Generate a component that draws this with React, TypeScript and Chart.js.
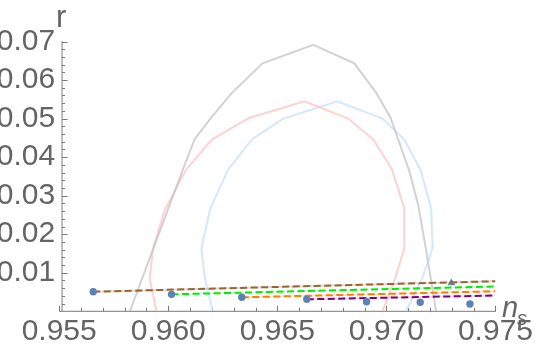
import React, { useEffect, useRef } from "react";
import { Chart, registerables } from "chart.js";

Chart.register(...registerables);

// ---- ticks ----
const xTickValues = [0.955, 0.96, 0.965, 0.97, 0.975];
const xTickLabels = ["0.955", "0.960", "0.965", "0.970", "0.975"];
const yTickValues = [0.01, 0.02, 0.03, 0.04, 0.05, 0.06, 0.07];
const yTickLabels = ["0.01", "0.02", "0.03", "0.04", "0.05", "0.06", "0.07"];
const xMinorTicks = [0.956, 0.957, 0.958, 0.959, 0.961, 0.962, 0.963, 0.964, 0.966, 0.967, 0.968, 0.969, 0.971, 0.972, 0.973, 0.974];
const yMinorTicks = [0.002, 0.004, 0.006, 0.008, 0.012, 0.014, 0.016, 0.018, 0.022, 0.024, 0.026, 0.028, 0.032, 0.034, 0.036, 0.038, 0.042, 0.044, 0.046, 0.048, 0.052, 0.054, 0.056, 0.058, 0.062, 0.064, 0.066, 0.068];
const xAxisLabel = "n";
const xAxisSub = "s";
const yAxisLabel = "r";

// ---- contours ----
const grayX = [0.95824, 0.96066, 0.96121, 0.96194, 0.9629, 0.96432, 0.96665, 0.96853, 0.96951, 0.97018, 0.97104, 0.97146, 0.97182, 0.97228];
const grayY = [0, 0.03661, 0.04464, 0.05008, 0.05655, 0.06433, 0.06912, 0.06433, 0.05689, 0.05034, 0.03661, 0.02754, 0.01588, 0];

const pinkX = [0.95946, 0.95915, 0.9593, 0.95984, 0.9608, 0.96199, 0.9637, 0.96624, 0.96825, 0.9694, 0.97025, 0.97082, 0.97082, 0.9704, 0.96982];
const pinkY = [0, 0.00855, 0.01632, 0.02624, 0.03661, 0.04456, 0.05016, 0.05448, 0.05, 0.04456, 0.03687, 0.02668, 0.01632, 0.00855, 0];

const blueX = [0.96205, 0.96167, 0.96152, 0.96192, 0.96273, 0.96384, 0.96527, 0.96775, 0.96982, 0.97082, 0.97157, 0.97205, 0.97212, 0.97164, 0.97089];
const blueY = [0, 0.00876, 0.01632, 0.0265, 0.03661, 0.04464, 0.05, 0.05448, 0.05, 0.04456, 0.03661, 0.02668, 0.01632, 0.00855, 0];

// ---- dashed model lines ----
const brownX = [0.95656, 0.975];
const brownY = [0.00508, 0.0078];
const greenX = [0.96015, 0.975];
const greenY = [0.0044, 0.00645];
const orangeX = [0.96337, 0.975];
const orangeY = [0.00363, 0.0052];
const purpleX = [0.96635, 0.975];
const purpleY = [0.00311, 0.0041];

// ---- points ----
const pointsX = [0.95656, 0.96015, 0.96337, 0.96635, 0.96909, 0.97155, 0.97383];
const pointsY = [0.00508, 0.0044, 0.00363, 0.00311, 0.00249, 0.00233, 0.00189];
const triX = [0.97298];
const triY = [0.00733];

const AXIS_COLOR = "#7a7a7a";
const LABEL_COLOR = "#646464";
const FONT = '"Liberation Sans", Arial, sans-serif';

const xy = (xs: number[], ys: number[]) => xs.map((x, i) => ({ x, y: ys[i] }));

const axesPlugin = {
  id: "mmaAxes",
  beforeDatasetsDraw(chart: any) {
    const { ctx, scales } = chart;
    const xs = scales.x;
    const ys = scales.y;
    const y0 = ys.getPixelForValue(0);
    const yTop = ys.getPixelForValue(0.07);
    const xOrig = xs.getPixelForValue(0.95513);
    const xL = xs.getPixelForValue(0.955);
    const xR = xs.getPixelForValue(0.975);
    ctx.save();
    ctx.strokeStyle = AXIS_COLOR;
    ctx.lineWidth = 1;
    ctx.beginPath();
    ctx.moveTo(xL, y0);
    ctx.lineTo(xR + 0.5, y0);
    ctx.moveTo(xOrig, y0);
    ctx.lineTo(xOrig, yTop - 0.5);
    xTickValues.forEach((v) => {
      const p = Math.round(xs.getPixelForValue(v)) + 0.5;
      ctx.moveTo(p, y0);
      ctx.lineTo(p, y0 - 5.5);
    });
    xMinorTicks.forEach((v) => {
      const p = Math.round(xs.getPixelForValue(v)) + 0.5;
      ctx.moveTo(p, y0);
      ctx.lineTo(p, y0 - 3.5);
    });
    yTickValues.forEach((v) => {
      const p = Math.round(ys.getPixelForValue(v)) + 0.5;
      ctx.moveTo(xOrig, p);
      ctx.lineTo(xOrig + 5.5, p);
    });
    yMinorTicks.forEach((v) => {
      const p = Math.round(ys.getPixelForValue(v)) + 0.5;
      ctx.moveTo(xOrig, p);
      ctx.lineTo(xOrig + 3, p);
    });
    ctx.stroke();
    ctx.restore();
  },
  afterDraw(chart: any) {
    const { ctx } = chart;
    ctx.save();
    ctx.fillStyle = LABEL_COLOR;
    ctx.textBaseline = "alphabetic";
    ctx.textAlign = "left";
    ctx.font = `31px ${FONT}`;
    ctx.fillText(yAxisLabel, 56, 27);
    ctx.font = `italic 29px ${FONT}`;
    ctx.fillText(xAxisLabel, 502, 317);
    ctx.font = `italic 20px ${FONT}`;
    ctx.fillText(xAxisSub, 517, 325);
    ctx.restore();
  },
};

export default function App() {
  const ref = useRef<HTMLCanvasElement | null>(null);
  useEffect(() => {
    if (!ref.current) return;
    const contour = (data: any[], color: string) => ({
      data,
      showLine: true,
      borderColor: color,
      borderWidth: 2,
      pointRadius: 0,
      fill: false,
      clip: 0,
      order: 10,
    });
    const ghostLine = (data: any[], color: string) => ({
      data,
      showLine: true,
      borderColor: color,
      borderWidth: 2,
      pointRadius: 0,
      fill: false,
      order: 5,
    });
    const dashLine = (data: any[], color: string) => ({
      data,
      showLine: true,
      borderColor: color,
      borderWidth: 2,
      borderDash: [7, 3.5],
      pointRadius: 0,
      fill: false,
      order: 4,
    });
    const chart = new Chart(ref.current, {
      type: "scatter",
      data: {
        datasets: [
          contour(xy(grayX, grayY), "rgba(195,195,195,0.75)"),
          contour(xy(pinkX, pinkY), "rgba(255,190,190,0.7)"),
          contour(xy(blueX, blueY), "rgba(200,225,255,0.8)"),
          {
            data: xy(triX, triY),
            pointStyle: "triangle",
            pointRadius: 4.5,
            backgroundColor: "#5e81b5",
            borderWidth: 0,
            showLine: false,
            order: 6,
          } as any,
          ghostLine(xy(brownX, brownY), "rgba(153,102,51,0.25)"),
          ghostLine(xy(greenX, greenY), "rgba(0,255,0,0.12)"),
          ghostLine(xy(orangeX, orangeY), "rgba(255,128,0,0.2)"),
          ghostLine(xy(purpleX, purpleY), "rgba(128,0,128,0.15)"),
          dashLine(xy(brownX, brownY), "#996633"),
          dashLine(xy(greenX, greenY), "#00ee00"),
          dashLine(xy(orangeX, orangeY), "#ff8000"),
          dashLine(xy(purpleX, purpleY), "#800080"),
          {
            data: xy(pointsX, pointsY),
            pointRadius: 3.7,
            backgroundColor: "#5e81b5",
            borderWidth: 0,
            showLine: false,
            order: 1,
          } as any,
        ],
      },
      options: {
        animation: false,
        responsive: false,
        events: [],
        layout: {
          autoPadding: false,
          padding: { top: 41.5, right: 38.5, left: 0, bottom: 0 },
        } as any,
        plugins: {
          legend: { display: false },
          tooltip: { enabled: false },
        },
        scales: {
          x: {
            type: "linear",
            min: 0.955,
            max: 0.975,
            grid: { display: false, drawTicks: false },
            border: { display: false },
            afterBuildTicks: (s: any) => {
              s.ticks = xTickValues.map((v) => ({ value: v }));
            },
            afterFit: (s: any) => {
              s.height = 38.7;
            },
            ticks: {
              autoSkip: false,
              maxRotation: 0,
              padding: 2,
              color: LABEL_COLOR,
              font: { family: FONT, size: 30 },
              callback: (_v: any, i: number) => xTickLabels[i],
            },
          },
          y: {
            type: "linear",
            min: 0,
            max: 0.07,
            grid: { display: false, drawTicks: false },
            border: { display: false },
            afterBuildTicks: (s: any) => {
              s.ticks = yTickValues.map((v) => ({ value: v }));
            },
            afterFit: (s: any) => {
              s.width = 59.2;
            },
            ticks: {
              autoSkip: false,
              padding: 4,
              color: LABEL_COLOR,
              font: { family: FONT, size: 30 },
              callback: (_v: any, i: number) => yTickLabels[i],
            },
          },
        },
      },
      plugins: [axesPlugin],
    });
    return () => chart.destroy();
  }, []);
  return (
    <canvas
      ref={ref}
      width={535}
      height={350}
      style={{ position: "fixed", left: 0, top: 0, width: 535, height: 350 }}
    />
  );
}
